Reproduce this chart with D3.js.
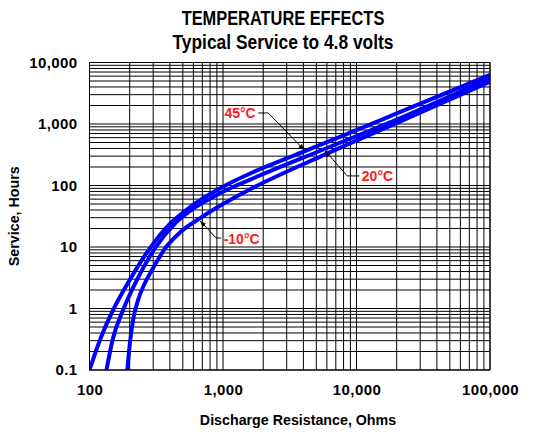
<!DOCTYPE html>
<html><head><meta charset="utf-8">
<script src="https://cdn.jsdelivr.net/npm/d3@7"></script>
<style>body{margin:0;background:#fff}svg{display:block}</style>
</head><body>
<script>
// ---- data ----
const xTicks = [100, 1000, 10000, 100000];
const xTickLabels = ["100", "1,000", "10,000", "100,000"];
const yTicks = [0.1, 1, 10, 100, 1000, 10000];
const yTickLabels = ["0.1", "1", "10", "100", "1,000", "10,000"];

// 45°C
const r45 = [100, 120, 153, 198, 284, 400, 567, 800, 1130, 1600, 4060, 9000, 21300, 100000];
const h45 = [0.1, 0.31, 1.02, 2.8, 9.6, 23.7, 44.7, 72.8, 110, 157, 358, 725, 1570, 6270];
// 20°C
const r20 = [134, 149, 181, 226, 314, 438, 618, 874, 1234, 1600, 5830, 21300, 100000];
const h20 = [0.1, 0.31, 1.02, 2.9, 10, 24.2, 44, 68, 98, 125, 396, 1250, 5600];
// -10°C
const rm10 = [192, 200, 212, 231, 256, 294, 375, 477, 674, 1000, 1600, 5830, 21300, 100000];
const hm10 = [0.1, 0.255, 0.65, 1.37, 2.41, 4.23, 10, 17.3, 29.5, 50, 87, 320, 1100, 4860];

const seriesNames = ["45°C", "20°C", "-10°C"];
const annTipR = [4060, 5840, 674];
const annTipH = [378, 364, 26.5];
const annElbowR = [2182, 8535, 889];
const annElbowH = [1510, 143, 14];

const titleLines = ["TEMPERATURE EFFECTS", "Typical Service to 4.8 volts"];
const xTitle = "Discharge Resistance, Ohms";
const yTitle = "Service, Hours";

// ---- chart ----
const W = 535, H = 434;
const L = 89.5, R = 490, T = 62.5, B = 370;
const svg = d3.select("body").append("svg").attr("width", W).attr("height", H);
const x = d3.scaleLog().domain([100, 100000]).range([L, R]);
const y = d3.scaleLog().domain([0.1, 10000]).range([B, T]);
const font = "'Liberation Sans',Arial,sans-serif";

// title (condensed look)
function condText(cx, cy, sx, size, txt, anchor) {
  return svg.append("text").attr("transform", `translate(${cx},${cy}) scale(${sx},1)`)
    .attr("text-anchor", anchor || "middle").attr("font-family", font)
    .attr("font-weight", "bold").attr("font-size", size).text(txt);
}
condText(283, 25, 0.82, 20, titleLines[0]);
condText(283, 49, 0.87, 20, titleLines[1]);

// grid
const xGrid = [], yGrid = [];
for (let d = 100; d < 100000; d *= 10) for (let k = 1; k <= 9; k++) xGrid.push(d * k);
xGrid.push(100000);
for (let d = 0.1; d < 9999; d *= 10) for (let k = 1; k <= 9; k++) yGrid.push(+(d * k).toPrecision(3));
yGrid.push(10000);
const g = svg.append("g");
g.selectAll("line.v").data(xGrid).join("line").attr("class", "v")
  .attr("x1", d => x(d)).attr("x2", d => x(d)).attr("y1", T).attr("y2", B)
  .attr("stroke", "#000").attr("stroke-width", 1);
g.selectAll("line.h").data(yGrid).join("line").attr("class", "h")
  .attr("y1", d => y(d)).attr("y2", d => y(d)).attr("x1", L).attr("x2", R)
  .attr("stroke", "#000").attr("stroke-width", 1);

// curves
svg.append("clipPath").attr("id", "clip").append("rect")
  .attr("x", L).attr("y", T).attr("width", R - L).attr("height", B - T);
const series = [[r45, h45], [r20, h20], [rm10, hm10]];
const line = d3.line().x(d => x(d[0])).y(d => y(d[1])).curve(d3.curveMonotoneX);
svg.append("g").attr("clip-path", "url(#clip)").selectAll("path").data(series).join("path")
  .attr("d", s => line(s[0].map((r, i) => [r, s[1][i]])))
  .attr("fill", "none").attr("stroke", "#0000ff").attr("stroke-width", 4);

// axes
const yAxis = svg.append("g").attr("transform", `translate(${L},0)`)
  .call(d3.axisLeft(y).tickValues(yTicks).tickFormat((d, i) => yTickLabels[i]).tickSize(0).tickPadding(12));
const xAxis = svg.append("g").attr("transform", `translate(0,${B})`)
  .call(d3.axisBottom(x).tickValues(xTicks).tickFormat((d, i) => xTickLabels[i]).tickSize(0).tickPadding(14));
[yAxis, xAxis].forEach(a => {
  a.select(".domain").remove();
  a.selectAll("text").attr("font-family", font).attr("font-weight", "bold").attr("font-size", 15)
    .attr("letter-spacing", 0.4).attr("fill", "#000");
});

// axis titles
condText(298, 425, 0.92, 15.5, xTitle);
svg.append("text").attr("transform", `translate(19,${(T + B) / 2}) rotate(-90) scale(0.92,1)`).attr("text-anchor", "middle")
  .attr("font-family", font).attr("font-weight", "bold").attr("font-size", 15.5).text(yTitle);

// border
svg.append("rect").attr("x", L).attr("y", T).attr("width", R - L).attr("height", B - T)
  .attr("fill", "none").attr("stroke", "#000").attr("stroke-width", 1);

// annotations
svg.append("defs").append("marker").attr("id", "ah").attr("viewBox", "0 0 10 10")
  .attr("refX", 10).attr("refY", 5).attr("markerWidth", 6).attr("markerHeight", 6)
  .attr("orient", "auto").append("path").attr("d", "M0,1 L10,5 L0,9 Z").attr("fill", "#000");
const annHook = [-10, 12, 5];
seriesNames.forEach((name, i) => {
  const ex = x(annElbowR[i]), ey = y(annElbowH[i]);
  const tx = x(annTipR[i]), ty = y(annTipH[i]);
  const hx = ex + annHook[i];
  const s = Math.sign(annHook[i]);
  svg.append("path").attr("d", `M${hx},${ey} L${ex},${ey} L${tx},${ty}`)
    .attr("fill", "none").attr("stroke", "#000").attr("stroke-width", 1).attr("marker-end", "url(#ah)");
  svg.append("text").attr("x", hx + s * 2.5).attr("y", ey + 5.5)
    .attr("text-anchor", s < 0 ? "end" : "start")
    .attr("font-family", font).attr("font-weight", "bold").attr("font-size", 14)
    .attr("fill", "#ff1a1a").text(name);
});
</script>
</body></html>
